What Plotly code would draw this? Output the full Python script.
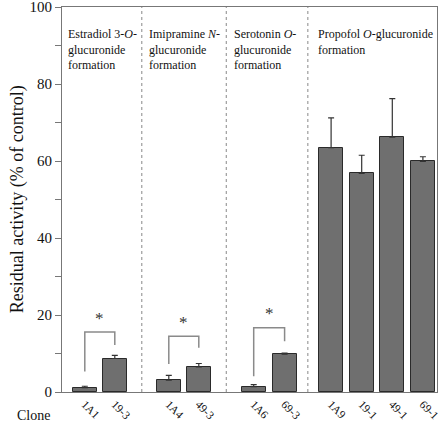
import plotly.graph_objects as go

# ---- data ----
clones = ["1A1", "19-3", "1A4", "49-3", "1A6", "69-3", "1A9", "19-1", "49-1", "69-1"]
activity = [1.1, 8.7, 3.1, 6.5, 1.4, 9.8, 63.5, 56.8, 66.2, 59.9]
sd = [0.4, 0.8, 1.2, 0.9, 0.5, 0.3, 7.7, 4.7, 10.0, 1.2]
group_sizes = [2, 2, 2, 4]
group_titles = [
    "Estradiol 3-<i>O</i>-<br>glucuronide<br>formation",
    "Imipramine <i>N</i>-<br>glucuronide<br>formation",
    "Serotonin <i>O</i>-<br>glucuronide<br>formation",
    "Propofol <i>O</i>-glucuronide<br>formation",
]
# significance brackets: (left leg bottom, right leg bottom, bracket top) per group
bracket_left = [5.3, 7.3, 4.1]
bracket_right = [12.2, 11.5, 13.2]
bracket_top = [15.6, 14.5, 16.7]
star_y = [19.2, 18.0, 20.5]

# ---- layout of positions ----
group_starts = [0.76, 3.56, 6.39, 8.97]
group_steps = [1.0, 1.0, 1.03, 1.02]
xpos = []
for start, step, n in zip(group_starts, group_steps, group_sizes):
    xpos += [start + i * step for i in range(n)]

SERIF = "Liberation Serif, Times New Roman, serif"
fig = go.Figure()
fig.add_trace(go.Bar(
    x=xpos, y=activity, width=0.8,
    marker=dict(color="#6f6f6f", line=dict(color="#2a2a2a", width=1)),
    error_y=dict(type="data", array=sd, arrayminus=[0] * len(sd), symmetric=False,
                 color="#333333", thickness=1.2, width=3),
    showlegend=False,
))

# brackets
idx = 0
for g, n in enumerate(group_sizes[:3]):
    xl, xr = xpos[idx], xpos[idx + 1]
    fig.add_trace(go.Scatter(
        x=[xl, xl, xr, xr],
        y=[bracket_left[g], bracket_top[g], bracket_top[g], bracket_right[g]],
        mode="lines", line=dict(color="#8a8a8a", width=1.5), showlegend=False,
        hoverinfo="skip"))
    fig.add_annotation(x=(xl + xr) / 2, y=star_y[g], text="*", showarrow=False,
                       font=dict(family=SERIF, size=17, color="#333"),
                       xanchor="center", yanchor="middle")
    idx += n

# dividers and titles
idx = 0
bounds = []
for g, n in enumerate(group_sizes):
    bounds.append((xpos[idx], xpos[idx + n - 1]))
    idx += n
for g in range(len(bounds) - 1):
    xd = (bounds[g][1] + bounds[g + 1][0]) / 2
    fig.add_shape(type="line", x0=xd, x1=xd, y0=0, y1=100, xref="x", yref="y",
                  line=dict(color="#888", width=1, dash="dot"))
title_x = [0.13, 2.83, 5.68, 8.45]
for g, t in enumerate(group_titles):
    fig.add_annotation(x=title_x[g], y=95.2, text=t, showarrow=False, align="left",
                       xanchor="left", yanchor="top",
                       font=dict(family=SERIF, size=12, color="#111"))

fig.add_annotation(x=-0.027, y=-0.062, xref="paper", yref="paper", text="Clone",
                   showarrow=False, xanchor="right", yanchor="middle",
                   font=dict(family=SERIF, size=14, color="#111"))
fig.add_annotation(x=-0.118, y=0.5, xref="paper", yref="paper",
                   text="Residual activity (% of control)", textangle=-90,
                   showarrow=False, xanchor="center", yanchor="middle",
                   font=dict(family=SERIF, size=18, color="#111"))

fig.update_layout(
    width=440, height=427,
    margin=dict(l=62, r=3, t=7, b=35),
    paper_bgcolor="white", plot_bgcolor="white",
    bargap=0,
    xaxis=dict(range=[0, 12.5], tickvals=xpos, ticktext=clones, tickangle=45,
               ticks="", showgrid=False, zeroline=False, automargin=False,
               showline=True, linecolor="#777", linewidth=1.2, mirror=True,
               ticklabeloverflow="allow",
               tickfont=dict(family=SERIF, size=11.5, color="#111")),
    yaxis=dict(range=[0, 100], tickvals=list(range(0, 101, 10)),
               ticktext=[str(v) if v % 20 == 0 else "" for v in range(0, 101, 10)],
               ticks="outside", ticklen=6, tickcolor="#777", tickwidth=1,
               showgrid=False, zeroline=False, automargin=False,
               showline=True, linecolor="#777", linewidth=1.2, mirror=True,
               ticklabeloverflow="allow",
               tickfont=dict(family=SERIF, size=15, color="#111")),
)

fig.write_html("out.html", config={"displayModeBar": False},
               post_script="document.body.style.margin='0px';document.body.style.padding='0px';")
